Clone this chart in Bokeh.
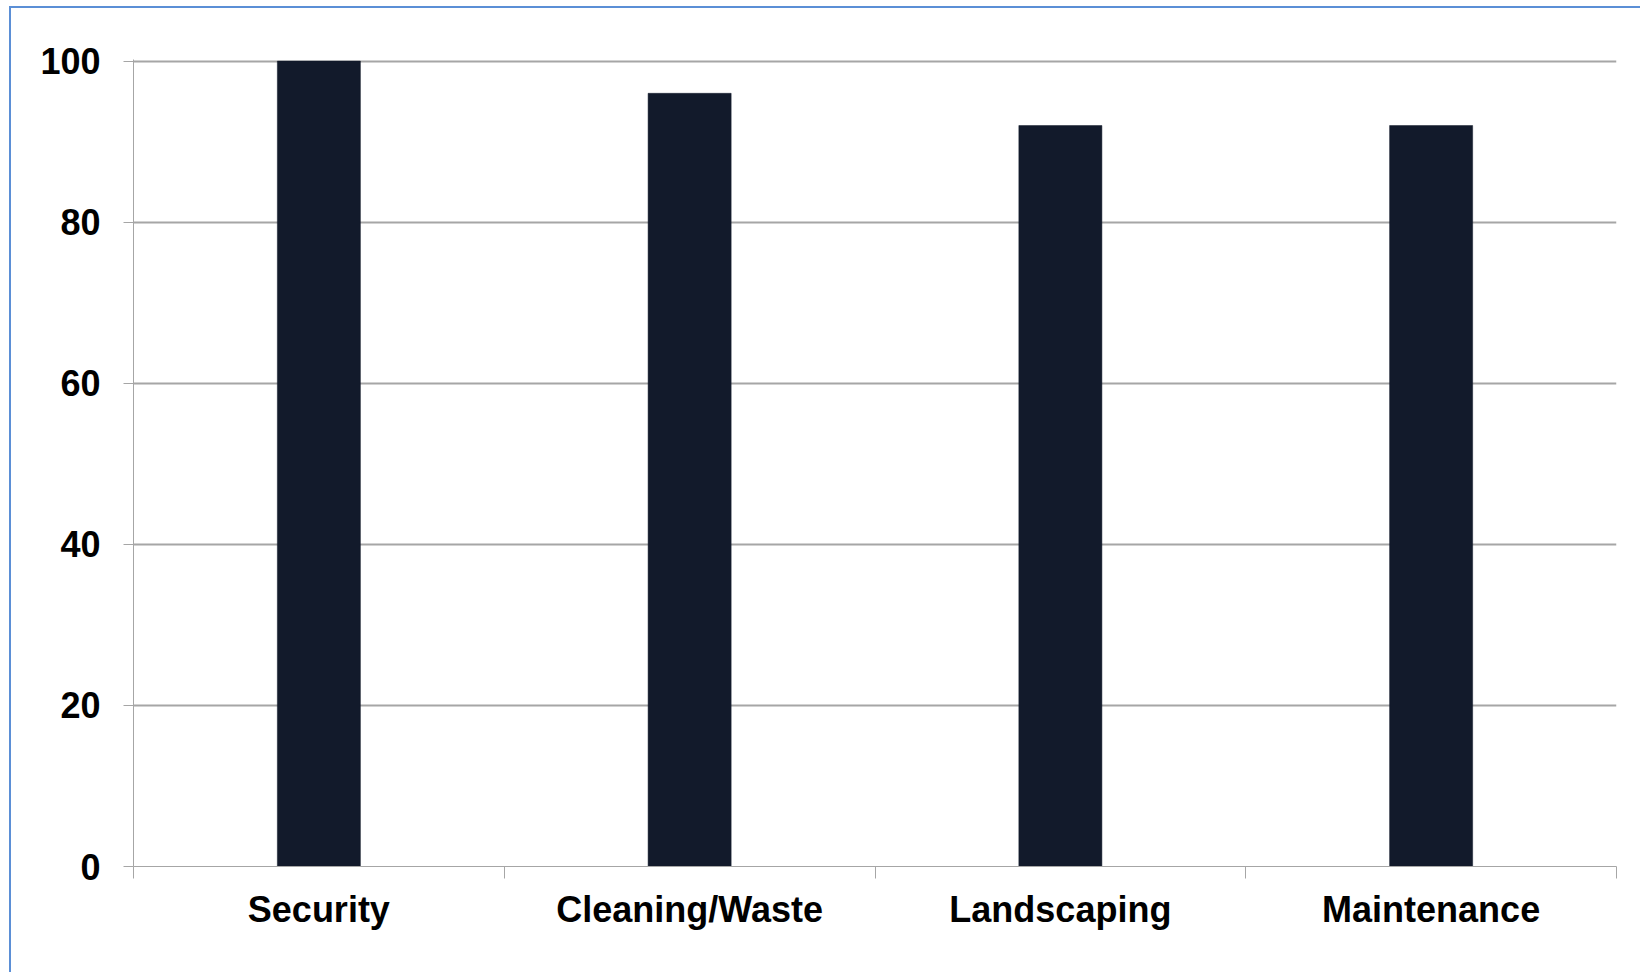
from bokeh.plotting import figure
from bokeh.models import Range1d, FixedTicker, LinearAxis, Grid
from bokeh.embed import file_html
from bokeh.resources import INLINE

categories = ["Security", "Cleaning/Waste", "Landscaping", "Maintenance"]
values = [100, 96, 92, 92]
y_ticks = [0, 20, 40, 60, 80, 100]

FONT = "Liberation Sans"
GRAY = "#a6a6a6"

p = figure(width=1631, height=966, output_backend="svg", toolbar_location=None,
           x_range=Range1d(0, len(categories)), y_range=Range1d(0, 100.2),
           x_axis_type=None, y_axis_type=None,
           min_border_left=122, min_border_right=26, min_border_top=51, min_border_bottom=108)
p.styles = {"margin-left": "9px", "margin-top": "6px",
            "border-left": "2px solid #5b8fd6", "border-top": "2px solid #5b8fd6"}
p.outline_line_color = None
p.background_fill_color = "white"
p.border_fill_color = "white"

xs = [i + 0.5 for i in range(len(categories))]
p.vbar(x=xs, top=values, bottom=0, width=0.224, fill_color="#121a2b", line_color="#121a2b", line_width=0.5)

yaxis = LinearAxis(ticker=FixedTicker(ticks=y_ticks, minor_ticks=[]))
yaxis.axis_line_color = GRAY
yaxis.axis_line_width = 1
yaxis.major_tick_line_color = GRAY
yaxis.major_tick_out = 10
yaxis.major_tick_in = 0
yaxis.major_label_standoff = 23
yaxis.major_label_text_font = FONT
yaxis.major_label_text_font_style = "bold"
yaxis.major_label_text_font_size = "36px"
yaxis.major_label_text_color = "black"
p.add_layout(yaxis, "left")

xaxis = LinearAxis(ticker=FixedTicker(ticks=xs, minor_ticks=list(range(len(categories) + 1))))
xaxis.major_label_overrides = {x: c for x, c in zip(xs, categories)}
xaxis.axis_line_color = GRAY
xaxis.axis_line_width = 1
xaxis.major_tick_line_color = None
xaxis.major_tick_out = 12
xaxis.major_tick_in = 0
xaxis.minor_tick_line_color = GRAY
xaxis.minor_tick_out = 12
xaxis.minor_tick_in = 0
xaxis.major_label_standoff = 10
xaxis.major_label_text_font = FONT
xaxis.major_label_text_font_style = "bold"
xaxis.major_label_text_font_size = "36px"
xaxis.major_label_text_color = "black"
p.add_layout(xaxis, "below")

grid = Grid(dimension=1, ticker=FixedTicker(ticks=y_ticks[1:]),
            grid_line_color=GRAY, grid_line_width=2, level="underlay")
p.add_layout(grid)

open("out.html", "w").write(file_html(p, INLINE))
